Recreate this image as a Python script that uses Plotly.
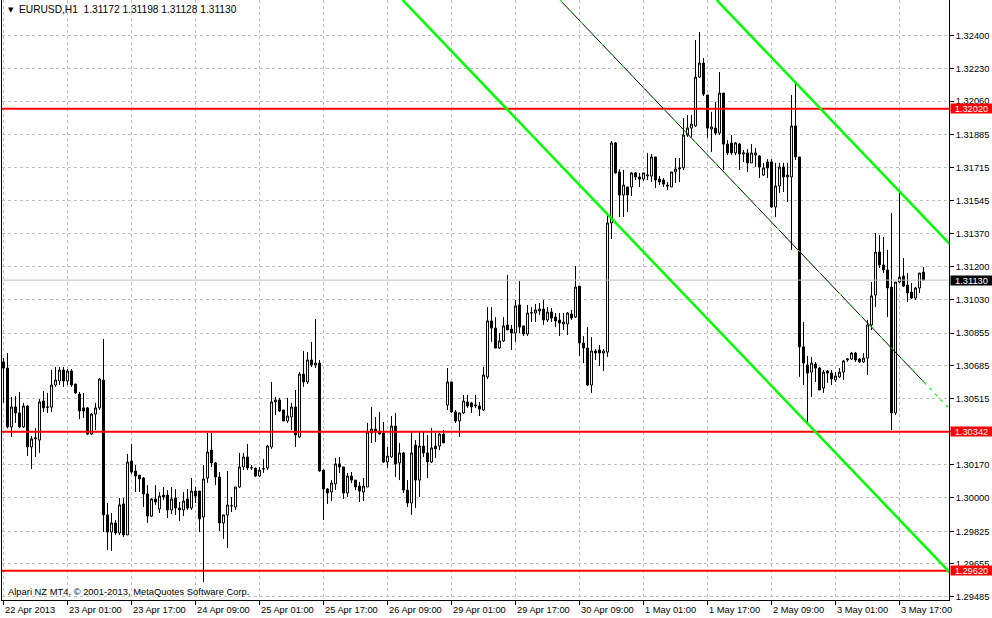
import plotly.graph_objects as go

# ---------------- data (EURUSD, H1) ----------------
open_ = [
    1.30705, 1.30673, 1.30367, 1.30471, 1.30440, 1.30367, 1.30476, 1.30263, 1.30305, 1.30299,
    1.30502, 1.30471, 1.30470, 1.30585, 1.30606, 1.30663, 1.30606, 1.30658, 1.30590, 1.30538,
    1.30466, 1.30466, 1.30330, 1.30434, 1.30466, 1.30611, 1.29910, 1.29821, 1.29868, 1.29816,
    1.29967, 1.29806, 1.30190, 1.30138, 1.30117, 1.30102, 1.30019, 1.29904, 1.29993, 1.29941,
    1.30013, 1.30013, 1.29936, 1.29998, 1.29946, 1.29936, 1.29993, 1.29946, 1.30034, 1.30034,
    1.29899, 1.30102, 1.30247, 1.30180, 1.30107, 1.29868, 1.29910, 1.29957, 1.29951, 1.30055,
    1.30159, 1.30211, 1.30154, 1.30154, 1.30112, 1.30149, 1.30154, 1.30263, 1.30497, 1.30507,
    1.30455, 1.30398, 1.30419, 1.30471, 1.30315, 1.30642, 1.30601, 1.30715, 1.30689, 1.30699,
    1.30143, 1.30045, 1.30029, 1.30071, 1.30175, 1.30159, 1.30024, 1.30112, 1.30091, 1.30060,
    1.30029, 1.30055, 1.30336, 1.30356, 1.30346, 1.30336, 1.30185, 1.30211, 1.30372, 1.30180,
    1.30232, 1.30039, 1.29972, 1.30273, 1.30091, 1.30268, 1.30232, 1.30185, 1.30268, 1.30268,
    1.30330, 1.30481, 1.30601, 1.30445, 1.30398, 1.30440, 1.30497, 1.30492, 1.30476, 1.30476,
    1.30455, 1.30627, 1.30918, 1.30881, 1.30777, 1.30814, 1.30897, 1.30876, 1.30855, 1.31001,
    1.30892, 1.30850, 1.30959, 1.30959, 1.30970, 1.30980, 1.30923, 1.30964, 1.30938, 1.30923,
    1.30902, 1.30902, 1.30954, 1.30938, 1.31099, 1.30803, 1.30777, 1.30585, 1.30762, 1.30767,
    1.30751, 1.30756, 1.31427, 1.31843, 1.31692, 1.31572, 1.31614, 1.31614, 1.31687, 1.31666,
    1.31655, 1.31671, 1.31671, 1.31770, 1.31655, 1.31650, 1.31624, 1.31614, 1.31692, 1.31707,
    1.31713, 1.31884, 1.31920, 1.31931, 1.32185, 1.32258, 1.32092, 1.31915, 1.31920, 1.31894,
    1.32102, 1.31837, 1.31843, 1.31791, 1.31837, 1.31785, 1.31791, 1.31739, 1.31780, 1.31775,
    1.31676, 1.31744, 1.31744, 1.31510, 1.31619, 1.31718, 1.31666, 1.31666, 1.31931, 1.31770,
    1.30783, 1.30689, 1.30652, 1.30694, 1.30673, 1.30569, 1.30658, 1.30647, 1.30611, 1.30627,
    1.30652, 1.30715, 1.30720, 1.30751, 1.30720, 1.30705, 1.30725, 1.30897, 1.31053, 1.31276,
    1.31209, 1.31183, 1.31094, 1.30440, 1.31120, 1.31151, 1.31104, 1.31068, 1.31037, 1.31089,
    1.31172,
]
high = [
    1.30725, 1.30751, 1.30523, 1.30528, 1.30549, 1.30492, 1.30481, 1.30320, 1.30362, 1.30512,
    1.30554, 1.30544, 1.30663, 1.30679, 1.30679, 1.30679, 1.30668, 1.30668, 1.30592, 1.30549,
    1.30544, 1.30471, 1.30440, 1.30492, 1.30621, 1.30824, 1.29972, 1.29920, 1.29884, 1.29998,
    1.29998, 1.30227, 1.30279, 1.30169, 1.30117, 1.30107, 1.30065, 1.29998, 1.30065, 1.30029,
    1.30055, 1.30039, 1.30055, 1.30044, 1.29977, 1.30029, 1.30044, 1.30102, 1.30055, 1.30034,
    1.30169, 1.30336, 1.30336, 1.30185, 1.30133, 1.29910, 1.30138, 1.30003, 1.30055, 1.30232,
    1.30232, 1.30279, 1.30169, 1.30154, 1.30159, 1.30200, 1.30273, 1.30601, 1.30523, 1.30518,
    1.30455, 1.30518, 1.30492, 1.30559, 1.30653, 1.30762, 1.30757, 1.30809, 1.30928, 1.30715,
    1.30143, 1.30050, 1.30091, 1.30206, 1.30211, 1.30159, 1.30128, 1.30133, 1.30091, 1.30081,
    1.30102, 1.30388, 1.30471, 1.30419, 1.30445, 1.30393, 1.30263, 1.30424, 1.30440, 1.30284,
    1.30237, 1.30091, 1.30346, 1.30299, 1.30341, 1.30341, 1.30325, 1.30362, 1.30336, 1.30336,
    1.30351, 1.30673, 1.30601, 1.30455, 1.30440, 1.30533, 1.30533, 1.30497, 1.30533, 1.30497,
    1.30679, 1.30990, 1.30990, 1.30938, 1.30855, 1.30938, 1.31157, 1.30897, 1.31027, 1.31125,
    1.30892, 1.31001, 1.30990, 1.31006, 1.31011, 1.31027, 1.30990, 1.30985, 1.30959, 1.30959,
    1.30959, 1.30964, 1.30975, 1.31203, 1.31099, 1.30840, 1.30886, 1.30834, 1.30772, 1.30793,
    1.30772, 1.31479, 1.31853, 1.31848, 1.31707, 1.31702, 1.31614, 1.31692, 1.31692, 1.31687,
    1.31687, 1.31791, 1.31785, 1.31770, 1.31671, 1.31660, 1.31640, 1.31692, 1.31765, 1.31765,
    1.31972, 1.31988, 1.31988, 1.32378, 1.32419, 1.32284, 1.32092, 1.32004, 1.32056, 1.32211,
    1.32102, 1.31858, 1.31884, 1.31848, 1.31843, 1.31806, 1.31811, 1.31837, 1.31817, 1.31780,
    1.31739, 1.31759, 1.31759, 1.31739, 1.31739, 1.31739, 1.31739, 1.32092, 1.32149, 1.31770,
    1.30912, 1.30736, 1.30731, 1.30705, 1.30679, 1.30663, 1.30663, 1.30663, 1.30652, 1.30673,
    1.30715, 1.30725, 1.30757, 1.30757, 1.30725, 1.30751, 1.30923, 1.31120, 1.31375, 1.31364,
    1.31354, 1.31287, 1.31479, 1.31120, 1.31583, 1.31245, 1.31167, 1.31115, 1.31094, 1.31167,
    1.31198,
]
low = [
    1.30492, 1.30360, 1.30315, 1.30388, 1.30360, 1.30362, 1.30216, 1.30149, 1.30211, 1.30232,
    1.30445, 1.30440, 1.30445, 1.30575, 1.30585, 1.30575, 1.30585, 1.30575, 1.30540, 1.30408,
    1.30414, 1.30325, 1.30325, 1.30351, 1.30455, 1.29821, 1.29728, 1.29723, 1.29806, 1.29806,
    1.29796, 1.29806, 1.30123, 1.30029, 1.30029, 1.29951, 1.29868, 1.29899, 1.29962, 1.29920,
    1.29988, 1.29894, 1.29915, 1.29910, 1.29878, 1.29904, 1.29936, 1.29936, 1.29972, 1.29821,
    1.29561, 1.30076, 1.30159, 1.30065, 1.29826, 1.29785, 1.29738, 1.29925, 1.29936, 1.30050,
    1.30143, 1.30143, 1.30143, 1.30107, 1.30107, 1.30128, 1.30143, 1.30253, 1.30429, 1.30445,
    1.30398, 1.30388, 1.30351, 1.30263, 1.30310, 1.30575, 1.30590, 1.30679, 1.30673, 1.30135,
    1.29884, 1.29967, 1.29982, 1.30039, 1.30128, 1.29993, 1.30003, 1.30076, 1.30039, 1.29977,
    1.29982, 1.30055, 1.30284, 1.30289, 1.30330, 1.30180, 1.30154, 1.30206, 1.30107, 1.30091,
    1.30024, 1.29951, 1.29910, 1.29946, 1.30003, 1.30211, 1.30102, 1.30180, 1.30206, 1.30247,
    1.30284, 1.30455, 1.30440, 1.30388, 1.30315, 1.30434, 1.30466, 1.30440, 1.30466, 1.30424,
    1.30450, 1.30616, 1.30809, 1.30777, 1.30772, 1.30809, 1.30871, 1.30767, 1.30809, 1.30855,
    1.30840, 1.30840, 1.30912, 1.30912, 1.30949, 1.30897, 1.30912, 1.30912, 1.30886, 1.30840,
    1.30871, 1.30845, 1.30923, 1.30933, 1.30736, 1.30699, 1.30580, 1.30544, 1.30715, 1.30684,
    1.30658, 1.30731, 1.31344, 1.31682, 1.31458, 1.31458, 1.31484, 1.31567, 1.31650, 1.31614,
    1.31645, 1.31650, 1.31640, 1.31609, 1.31624, 1.31614, 1.31598, 1.31614, 1.31635, 1.31640,
    1.31702, 1.31874, 1.31874, 1.31926, 1.32180, 1.32087, 1.31869, 1.31796, 1.31884, 1.31884,
    1.31702, 1.31780, 1.31780, 1.31780, 1.31702, 1.31744, 1.31692, 1.31739, 1.31718, 1.31661,
    1.31671, 1.31661, 1.31505, 1.31458, 1.31583, 1.31588, 1.31536, 1.31287, 1.31754, 1.30627,
    1.30585, 1.30377, 1.30523, 1.30601, 1.30559, 1.30544, 1.30596, 1.30585, 1.30601, 1.30621,
    1.30611, 1.30705, 1.30715, 1.30705, 1.30699, 1.30699, 1.30637, 1.30871, 1.30990, 1.31193,
    1.31167, 1.30938, 1.30351, 1.30429, 1.31115, 1.31094, 1.31016, 1.31032, 1.31027, 1.31063,
    1.31128,
]
close = [
    1.30673, 1.30367, 1.30471, 1.30440, 1.30367, 1.30476, 1.30263, 1.30305, 1.30310, 1.30497,
    1.30466, 1.30470, 1.30585, 1.30611, 1.30663, 1.30606, 1.30658, 1.30585, 1.30544, 1.30450,
    1.30450, 1.30330, 1.30434, 1.30466, 1.30616, 1.29910, 1.29821, 1.29868, 1.29816, 1.29962,
    1.29806, 1.30185, 1.30133, 1.30112, 1.30097, 1.30019, 1.29904, 1.29993, 1.29977, 1.30008,
    1.30003, 1.29936, 1.29993, 1.29946, 1.29936, 1.29982, 1.29946, 1.30034, 1.30008, 1.29889,
    1.30097, 1.30237, 1.30180, 1.30107, 1.29868, 1.29910, 1.29962, 1.29958, 1.30055, 1.30159,
    1.30211, 1.30154, 1.30155, 1.30112, 1.30143, 1.30150, 1.30268, 1.30497, 1.30507, 1.30450,
    1.30398, 1.30424, 1.30471, 1.30325, 1.30642, 1.30601, 1.30715, 1.30689, 1.30699, 1.30138,
    1.30045, 1.30024, 1.30076, 1.30175, 1.30159, 1.30024, 1.30112, 1.30091, 1.30055, 1.30034,
    1.30060, 1.30341, 1.30356, 1.30341, 1.30330, 1.30185, 1.30216, 1.30372, 1.30175, 1.30232,
    1.30039, 1.29972, 1.30232, 1.30091, 1.30268, 1.30232, 1.30185, 1.30258, 1.30253, 1.30330,
    1.30284, 1.30601, 1.30445, 1.30398, 1.30440, 1.30502, 1.30476, 1.30471, 1.30481, 1.30460,
    1.30637, 1.30918, 1.30881, 1.30777, 1.30814, 1.30892, 1.30871, 1.30855, 1.30996, 1.30886,
    1.30850, 1.30959, 1.30960, 1.30975, 1.30980, 1.30923, 1.30964, 1.30933, 1.30918, 1.30907,
    1.30912, 1.30959, 1.30933, 1.31094, 1.30803, 1.30777, 1.30585, 1.30762, 1.30751, 1.30751,
    1.30762, 1.31427, 1.31843, 1.31687, 1.31572, 1.31624, 1.31572, 1.31687, 1.31666, 1.31655,
    1.31687, 1.31676, 1.31770, 1.31650, 1.31640, 1.31629, 1.31619, 1.31692, 1.31707, 1.31713,
    1.31884, 1.31920, 1.31941, 1.32185, 1.32258, 1.32097, 1.31920, 1.31926, 1.31894, 1.32102,
    1.31837, 1.31791, 1.31791, 1.31843, 1.31785, 1.31791, 1.31739, 1.31791, 1.31791, 1.31718,
    1.31713, 1.31713, 1.31510, 1.31619, 1.31718, 1.31666, 1.31676, 1.31931, 1.31770, 1.30783,
    1.30699, 1.30647, 1.30699, 1.30673, 1.30559, 1.30652, 1.30647, 1.30616, 1.30632, 1.30652,
    1.30710, 1.30720, 1.30751, 1.30715, 1.30705, 1.30725, 1.30897, 1.31048, 1.31276, 1.31209,
    1.31183, 1.31089, 1.30440, 1.31120, 1.31146, 1.31099, 1.31063, 1.31037, 1.31089, 1.31167,
    1.31130,
]
bar_index = list(range(len(open_)))

# time-axis labels (every 16 H1 bars)
time_tick_bars = [0, 16, 32, 48, 64, 80, 96, 112, 128, 144, 160, 176, 192, 208, 224]
time_tick_labels = ["22 Apr 2013", "23 Apr 01:00", "23 Apr 17:00", "24 Apr 09:00",
                    "25 Apr 01:00", "25 Apr 17:00", "26 Apr 09:00", "29 Apr 01:00",
                    "29 Apr 17:00", "30 Apr 09:00", "1 May 01:00", "1 May 17:00",
                    "2 May 09:00", "3 May 01:00", "3 May 17:00"]

# price-axis ticks
price_ticks = [1.32400, 1.32230, 1.32060, 1.31885, 1.31715, 1.31545, 1.31370, 1.31200,
               1.31030, 1.30855, 1.30685, 1.30515, 1.30345, 1.30170, 1.30000, 1.29825,
               1.29655, 1.29485]

# horizontal support / resistance levels
level_prices = [1.32020, 1.30342, 1.29620]
last_price = 1.31130

# regression channel lines (bar index, price)
channel_low_x = [99.75, 236.5]
channel_low_y = [1.32586, 1.29613]
channel_up_x = [178.25, 236.5]
channel_up_y = [1.32586, 1.31318]
channel_mid_x = [139.1, 230.1]
channel_mid_y = [1.32586, 1.30600]
channel_mid_ext_x = [230.1, 236.2]
channel_mid_ext_y = [1.30600, 1.30467]

title_text = "EURUSD,H1\u00a0\u00a01.31172 1.31198 1.31128 1.31130"
copyright_text = "Alpari NZ MT4, \u00a9 2001-2013, MetaQuotes Software Corp."

# ---------------- figure ----------------
X_RANGE = [-0.375, 236.375]
Y_RANGE = [1.294679, 1.325855]
FONT = "Liberation Sans, Arial, sans-serif"
GRID = "#c0c0c0"

fig = go.Figure()

# current price line (behind candles)
fig.add_trace(go.Scatter(x=X_RANGE, y=[last_price, last_price], mode="lines",
                         line=dict(color="#c0c0c0", width=1),
                         hoverinfo="skip", showlegend=False))

fig.add_trace(go.Candlestick(
    x=bar_index, open=open_, high=high, low=low, close=close,
    increasing=dict(line=dict(color="black", width=1), fillcolor="white"),
    decreasing=dict(line=dict(color="black", width=1), fillcolor="black"),
    whiskerwidth=0, showlegend=False, hoverinfo="skip"))

# red horizontal levels
for lv in level_prices:
    fig.add_trace(go.Scatter(x=X_RANGE, y=[lv, lv], mode="lines",
                             line=dict(color="#ff0000", width=2),
                             hoverinfo="skip", showlegend=False))

# channel
for cx, cy in [(channel_low_x, channel_low_y), (channel_up_x, channel_up_y)]:
    fig.add_trace(go.Scatter(x=cx, y=cy, mode="lines",
                             line=dict(color="#00ff00", width=2.5),
                             hoverinfo="skip", showlegend=False))
fig.add_trace(go.Scatter(x=channel_mid_x, y=channel_mid_y, mode="lines",
                         line=dict(color="black", width=1),
                         hoverinfo="skip", showlegend=False))
fig.add_trace(go.Scatter(x=channel_mid_x, y=channel_mid_y, mode="lines",
                         line=dict(color="#00ff00", width=1, dash="3px,12px"),
                         hoverinfo="skip", showlegend=False))
fig.add_trace(go.Scatter(x=channel_mid_ext_x, y=channel_mid_ext_y, mode="lines",
                         line=dict(color="#00ff00", width=1.2, dash="3px,5px"),
                         hoverinfo="skip", showlegend=False))

annotations = []
# bottom time labels, left-aligned at their tick like MT4
for b, t in zip(time_tick_bars, time_tick_labels):
    annotations.append(dict(x=b, y=0, xref="x", yref="paper", text=t, showarrow=False,
                            xanchor="left", yanchor="top", yshift=-3, xshift=-1,
                            font=dict(family=FONT, size=9.3, color="black")))
# level price tags
for lv in level_prices:
    annotations.append(dict(x=1, y=lv, xref="paper", yref="y", text="%.5f" % lv,
                            showarrow=False, xanchor="left", yanchor="middle",
                            xshift=1, bgcolor="#ff0000", width=41, height=9,
                            borderpad=0, font=dict(family=FONT, size=9.3, color="white")))
annotations.append(dict(x=1, y=last_price, xref="paper", yref="y", text="%.5f" % last_price,
                        showarrow=False, xanchor="left", yanchor="middle",
                        xshift=1, bgcolor="black", width=41, height=9,
                        borderpad=0, font=dict(family=FONT, size=9.3, color="white")))
# header and copyright
annotations.append(dict(x=0, y=1, xref="paper", yref="paper", text="\u25bc", showarrow=False,
                        xanchor="left", yanchor="top", xshift=4, yshift=-4,
                        font=dict(family="DejaVu Sans", size=7, color="black")))
annotations.append(dict(x=0, y=1, xref="paper", yref="paper", text=title_text, showarrow=False,
                        xanchor="left", yanchor="top", xshift=15, yshift=-2,
                        font=dict(family=FONT, size=10.2, color="black")))
annotations.append(dict(x=0, y=0, xref="paper", yref="paper", text=copyright_text,
                        showarrow=False, xanchor="left", yanchor="bottom", xshift=4, yshift=1,
                        font=dict(family=FONT, size=9.4, color="black")))

fig.update_layout(
    width=992, height=618,
    margin=dict(l=2, r=43, t=0, b=18),
    paper_bgcolor="white", plot_bgcolor="white",
    showlegend=False,
    font=dict(family=FONT, size=9, color="black"),
    annotations=annotations,
    xaxis=dict(range=X_RANGE, autorange=False, type="linear",
               tickvals=time_tick_bars, ticktext=[""] * len(time_tick_bars),
               ticks="outside", ticklen=4, tickcolor="black", tickwidth=1,
               showgrid=True, gridcolor=GRID, griddash="3px,3px", gridwidth=1,
               showline=True, linecolor="black", linewidth=1,
               zeroline=False, rangeslider=dict(visible=False), fixedrange=True),
    yaxis=dict(range=Y_RANGE, autorange=False, side="right",
               tickvals=price_ticks, ticktext=["%.5f" % p for p in price_ticks],
               ticks="outside", ticklen=4, tickcolor="black", tickwidth=1,
               tickfont=dict(family=FONT, size=9.3, color="black"),
               showgrid=True, gridcolor=GRID, griddash="3px,3px", gridwidth=1,
               showline=True, mirror=True, linecolor="black", linewidth=1,
               zeroline=False, fixedrange=True),
)

fig.write_html("out.html", config={"displayModeBar": False},
               post_script="document.body.style.margin='0px';document.body.style.overflow='hidden';")
